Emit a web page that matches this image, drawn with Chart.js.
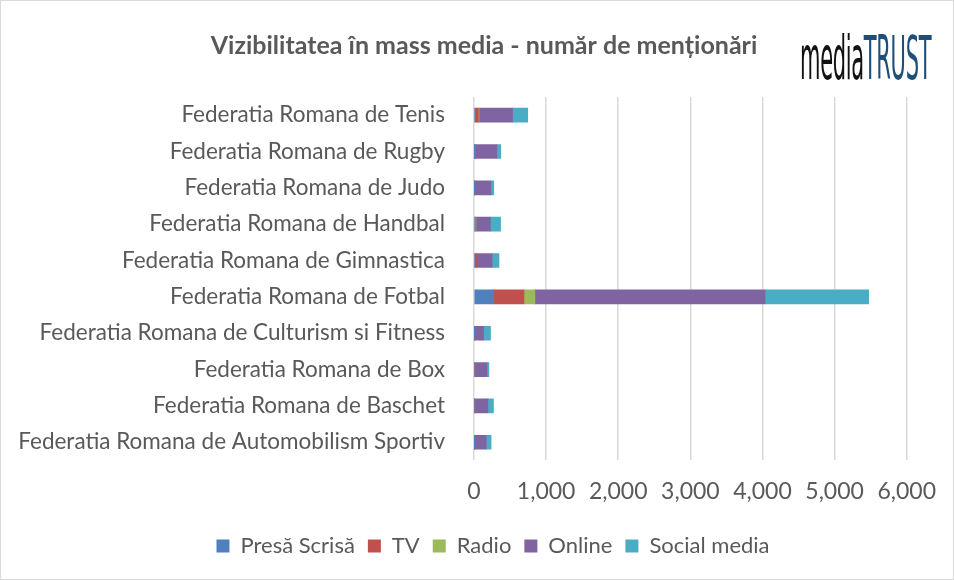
<!DOCTYPE html>
<html>
<head>
<meta charset="utf-8">
<script src="https://cdn.jsdelivr.net/npm/chart.js@4"></script>
<style>
  html, body { margin: 0; padding: 0; background: #fff; }
  #wrap { position: relative; width: 954px; height: 580px; box-sizing: border-box; border: 1px solid #d9d9d9; }
  #logo { position: absolute; left: 799px; top: 21px; font-family: "DejaVu Sans"; font-size: 61px; letter-spacing: -1px;
          transform: scaleX(0.345); transform-origin: left top; white-space: nowrap; }
  #logo .m { color: #111; }
  #logo .t { color: #1f4e79; }
</style>
</head>
<body>
<div id="wrap">
  <canvas id="chart" width="952" height="578"></canvas>
  <div id="logo"><span class="m">media</span><span class="t">TRUST</span></div>
</div>
<script>
var categories = ["Federatia Romana de Tenis", "Federatia Romana de Rugby", "Federatia Romana de Judo",
    "Federatia Romana de Handbal", "Federatia Romana de Gimnastica", "Federatia Romana de Fotbal",
    "Federatia Romana de Culturism si Fitness", "Federatia Romana de Box", "Federatia Romana de Baschet",
    "Federatia Romana de Automobilism Sportiv"];
var presaScrisa = [15, 5, 5, 15, 12, 274, 5, 0, 10, 5];
var tv = [45, 15, 0, 0, 25, 419, 0, 10, 0, 0];
var radio = [10, 0, 0, 12, 0, 151, 0, 0, 0, 0];
var online = [465, 296, 228, 200, 214, 3192, 128, 170, 182, 164];
var socialMedia = [210, 55, 41, 141, 96, 1436, 96, 27, 78, 68];
var ticks = [0, 1000, 2000, 3000, 4000, 5000, 6000];

var font = "Lato";
var textColor = "#595959";

function series(label, data, color) {
    return { label: label, data: data, backgroundColor: color, borderWidth: 0, barThickness: 14 };
}

// title and legend sit a bit right of the page centre in the original
var shiftBoxes = {
    id: 'shiftBoxes',
    afterLayout: function (chart) {
        chart.titleBlock.left += 22;
        chart.titleBlock.right += 22;
        chart.legend.left += 31;
        chart.legend.right += 31;
    }
};

new Chart(document.getElementById('chart'), {
    type: 'bar',
    data: {
        labels: categories,
        datasets: [
            series("Presă Scrisă", presaScrisa, "#4f81bd"),
            series("TV", tv, "#c0504d"),
            series("Radio", radio, "#9bbb59"),
            series("Online", online, "#8064a2"),
            series("Social media", socialMedia, "#4bacc6")
        ]
    },
    options: {
        indexAxis: 'y',
        responsive: false,
        animation: false,
        layout: { padding: { left: 10, right: 40, top: 22, bottom: 12 } },
        scales: {
            x: {
                stacked: true,
                min: 0,
                max: 6000,
                afterBuildTicks: function (axis) {
                    axis.ticks = ticks.map(function (v) { return { value: v }; });
                },
                grid: { color: "#d9d9d9", lineWidth: 1.5, drawTicks: false },
                border: { display: false },
                ticks: {
                    color: textColor,
                    font: { family: font, size: 23 },
                    padding: 17,
                    callback: function (v) { return v.toLocaleString('en-US'); }
                }
            },
            y: {
                stacked: true,
                afterFit: function (axis) { axis.width = 463; },
                grid: { display: false },
                border: { display: false },
                ticks: { color: textColor, font: { family: font, size: 22.5 }, padding: 21 }
            }
        },
        plugins: {
            title: {
                display: true,
                text: "Vizibilitatea în mass media - număr de menționări",
                color: textColor,
                font: { family: font, size: 25, weight: 'bold' },
                padding: { top: 8, bottom: 36 }
            },
            legend: {
                position: 'bottom',
                labels: {
                    color: textColor,
                    font: { family: font, size: 22 },
                    boxWidth: 13,
                    boxHeight: 13,
                    padding: 13
                }
            },
            tooltip: { enabled: false }
        }
    },
    plugins: [shiftBoxes]
});
</script>
</body>
</html>
